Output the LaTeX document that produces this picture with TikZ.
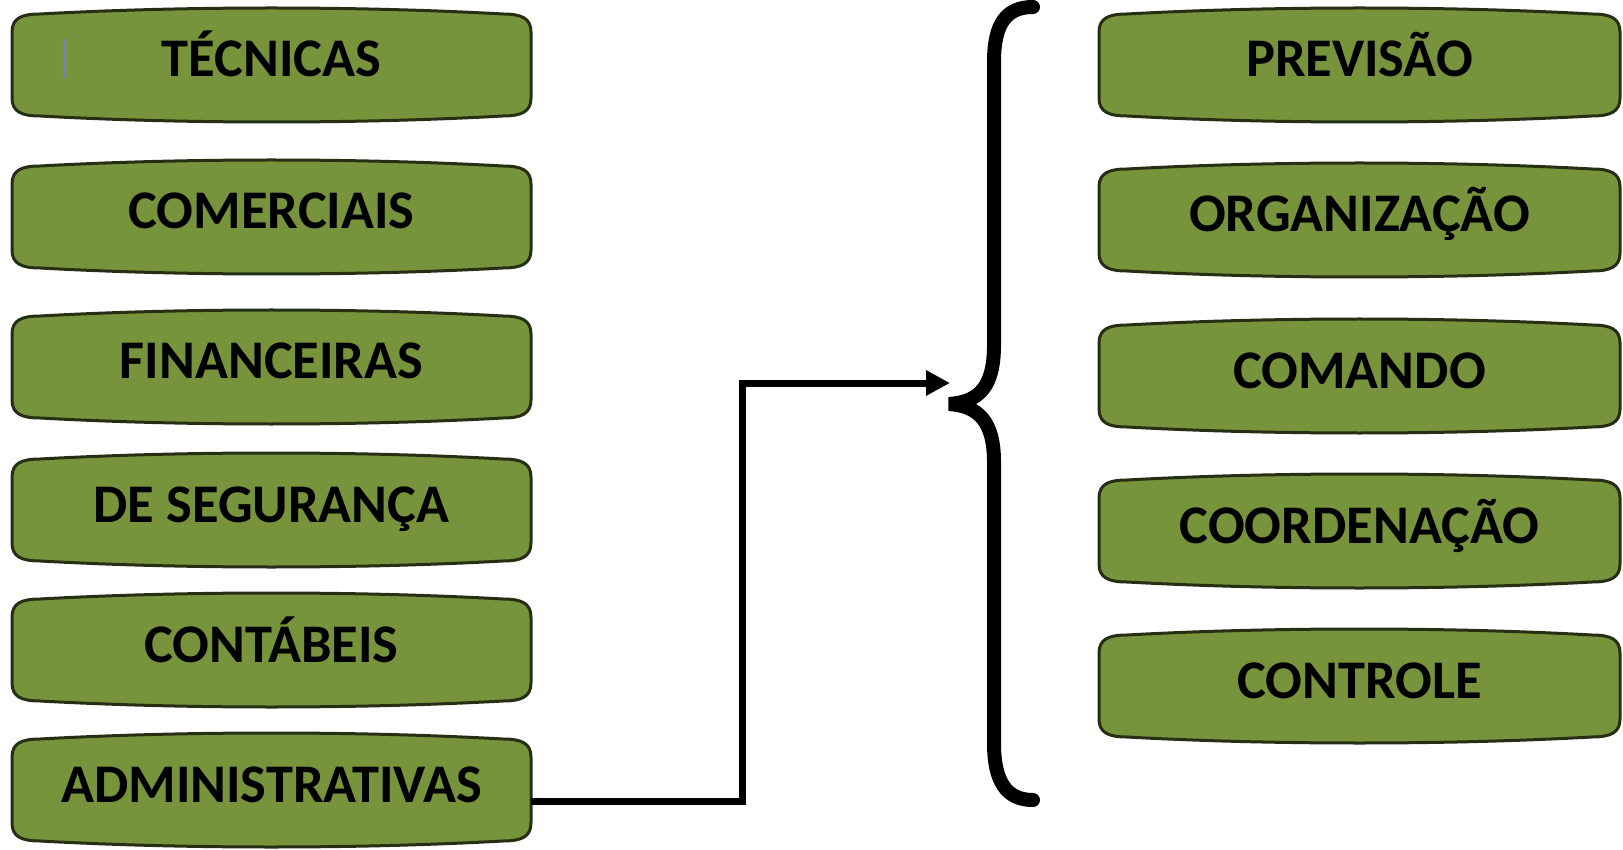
\documentclass[tikz,border=0pt]{standalone}
\usepackage{fontspec}
\setmainfont{Carlito}
\usetikzlibrary{arrows.meta}
\definecolor{olive}{HTML}{77933C}
\definecolor{oliveline}{HTML}{262E14}
\tikzset{
  boxline/.style={fill=olive, draw=oliveline, line width=1.5pt},
  boxnode/.style={inner sep=0pt, text height=17pt, text depth=5pt,
    font=\fontsize{27.2}{31}\selectfont\bfseries, text=black},
  conn/.style={line width=3.5pt, -{Triangle[length=12pt,width=12pt]}},
  bracestyle/.style={line width=7pt, line cap=round}
}
% #1 name, #2 cx, #3 cy, #4 half width (px), #5 half height (px), #6 text
\newcommand\greenbox[6]{%
  \begin{scope}[shift={(#2,#3)}]
    \pgfmathsetmacro\hw{#4}\pgfmathsetmacro\hh{#5}
    \path[boxline] (-\hw,-\hh+24) -- (-\hw,\hh-24)
      .. controls (-\hw,\hh-10) and (-\hw+10,\hh-6) .. (-\hw+28,\hh-6)
      .. controls ({-\hw/3},\hh+2) and ({\hw/3},\hh+2) .. (\hw-28,\hh-6)
      .. controls (\hw-10,\hh-6) and (\hw,\hh-10) .. (\hw,\hh-24)
      -- (\hw,-\hh+24)
      .. controls (\hw,-\hh+10) and (\hw-10,-\hh+6) .. (\hw-28,-\hh+6)
      .. controls ({\hw/3},-\hh-2) and ({-\hw/3},-\hh-2) .. (-\hw+28,-\hh+6)
      .. controls (-\hw+10,-\hh+6) and (-\hw,-\hh+10) .. (-\hw,-\hh+24) -- cycle;
  \end{scope}
  \node[boxnode, minimum width=#4pt, minimum height=#5pt] (#1) at (#2,#3) {#6};
}
\begin{document}
\begin{tikzpicture}[x=0.5pt,y=-0.5pt]
\useasboundingbox (0,0) rectangle (1623,850);
% left column
\greenbox{tec}{271.5}{65}{259.5}{57}{TÉCNICAS}
\greenbox{com}{271.5}{217}{259.5}{57}{COMERCIAIS}
\greenbox{fin}{271.5}{367}{259.5}{57}{FINANCEIRAS}
\greenbox{seg}{271.5}{510}{259.5}{57}{DE SEGURANÇA}
\greenbox{cont}{271.5}{650}{259.5}{57}{CONTÁBEIS}
\greenbox{adm}{271.5}{790}{259.5}{57}{ADMINISTRATIVAS}
% right column
\greenbox{prev}{1359.5}{65}{260.5}{57}{PREVISÃO}
\greenbox{org}{1359.5}{220}{260.5}{57}{ORGANIZAÇÃO}
\greenbox{cmd}{1359.5}{376}{260.5}{57}{COMANDO}
\greenbox{coord}{1359.5}{531}{260.5}{57}{COORDENAÇÃO}
\greenbox{ctrl}{1359.5}{686}{260.5}{57}{CONTROLE}
% cursor mark
\draw[color={rgb,255:red,128;green,120;blue,200}, line width=1.5pt] (64,39) -- (64,78);
% brace
\coordinate (bracetop) at (1033,7);
\coordinate (bracetip) at (949,404);
\coordinate (bracebot) at (1033,800);
\draw[bracestyle] (bracetop) .. controls (1006,7) and (994,24) .. (994,62)
  -- (994,345) .. controls (994,387) and (979,402) .. (bracetip)
  .. controls (979,406) and (994,422) .. (994,462)
  -- (994,743) .. controls (994,781) and (1006,800) .. (bracebot);
% connector
\coordinate (arrowend) at (950,383);
\coordinate (turn) at (742,801);
\draw[conn] (adm.east |- turn) -- (turn) |- (arrowend);
\end{tikzpicture}
\end{document}
